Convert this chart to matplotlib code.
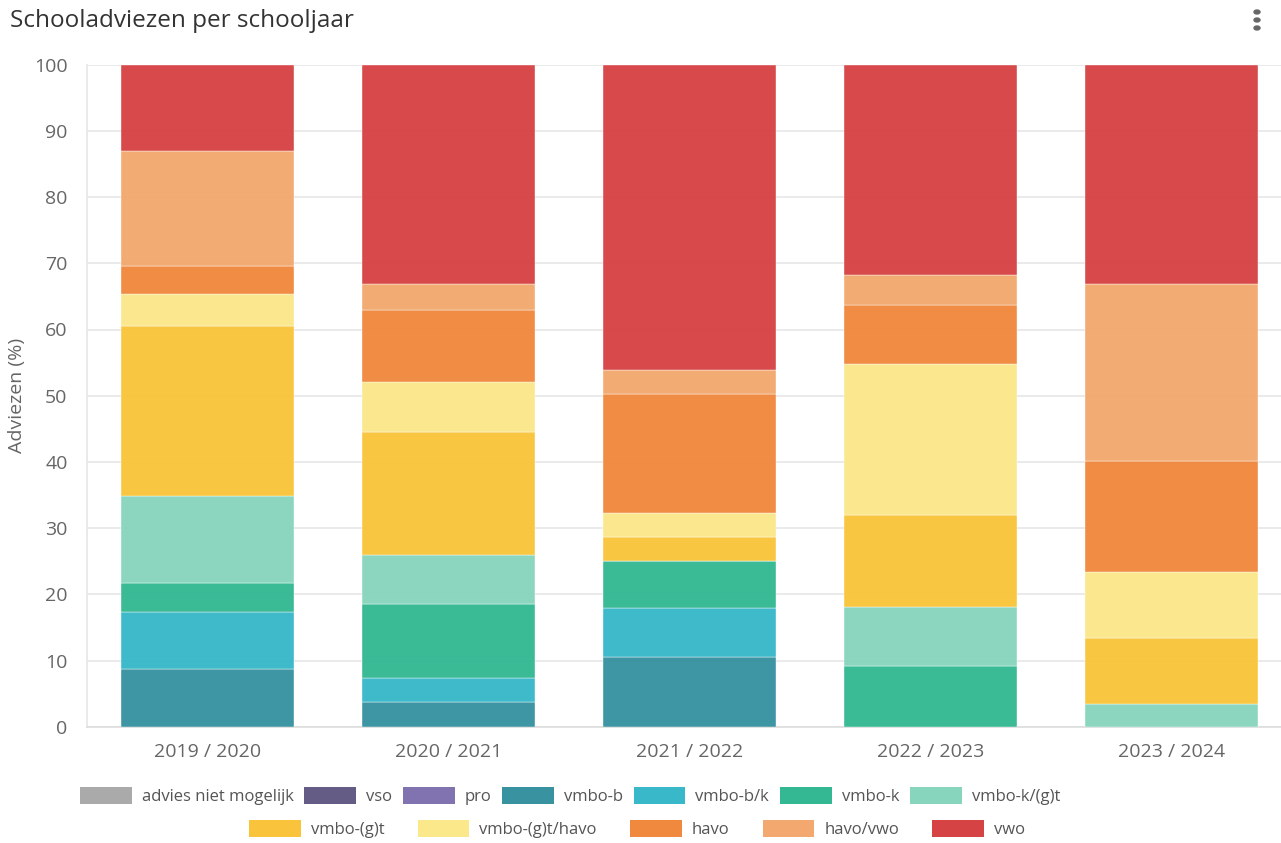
import numpy as np
import matplotlib
matplotlib.use('Agg')
import matplotlib.pyplot as plt
from matplotlib.patches import Patch

plt.rcParams['font.family'] = ['Open Sans', 'DejaVu Sans']

# Data
schooljaren = ['2019 / 2020', '2020 / 2021', '2021 / 2022', '2022 / 2023', '2023 / 2024']
categorieen = ['advies niet mogelijk', 'vso', 'pro', 'vmbo-b', 'vmbo-b/k', 'vmbo-k',
               'vmbo-k/(g)t', 'vmbo-(g)t', 'vmbo-(g)t/havo', 'havo', 'havo/vwo', 'vwo']
kleuren = ['#aaaaaa', '#655c85', '#8173b0', '#3892a0', '#38b8c9', '#34b893',
           '#88d5be', '#f9c43c', '#fbe88a', '#f0883e', '#f2a86e', '#d64345']

advies_niet_mogelijk = [0, 0, 0, 0, 0]
vso = [0, 0, 0, 0, 0]
pro = [0, 0, 0, 0, 0]
vmbo_b = [8.7, 3.7, 10.6, 0, 0]
vmbo_bk = [8.7, 3.7, 7.4, 0, 0]
vmbo_k = [4.3, 11.2, 7.1, 9.1, 0]
vmbo_kgt = [13.1, 7.4, 0, 9.0, 3.4]
vmbo_gt = [25.7, 18.5, 3.6, 13.9, 10.0]
vmbo_gt_havo = [4.8, 7.6, 3.6, 22.8, 10.0]
havo = [4.3, 10.9, 17.9, 8.9, 16.7]
havo_vwo = [17.4, 3.8, 3.7, 4.6, 26.7]
vwo = [13.0, 33.2, 46.1, 31.7, 33.2]

reeksen = [advies_niet_mogelijk, vso, pro, vmbo_b, vmbo_bk, vmbo_k,
           vmbo_kgt, vmbo_gt, vmbo_gt_havo, havo, havo_vwo, vwo]

W, H = 1281, 843
fig = plt.figure(figsize=(W / 100, H / 100), dpi=100)
ax = fig.add_axes([87 / W, 1 - 726.7 / H, 1194 / W, (726.7 - 64.7) / H])

x = np.arange(len(schooljaren))
bottom = np.zeros(len(schooljaren))
for naam, waarden, kleur in zip(categorieen, reeksen, kleuren):
    waarden = np.array(waarden, dtype=float)
    ax.bar(x, waarden, bottom=bottom, width=0.718, color=kleur, alpha=0.97,
           edgecolor='white', linewidth=0.3, zorder=3)
    bottom += waarden

ax.set_xlim(-0.5, 4.455)
ax.set_ylim(0, 100)
ax.set_yticks(np.arange(0, 101, 10))
ax.set_xticks(x)
ax.set_xticklabels(schooljaren)
ax.tick_params(axis='both', length=0, labelsize=14, colors='#666666')
ax.tick_params(axis='x', pad=12)
ax.tick_params(axis='y', pad=14)
ax.grid(axis='y', color='#e6e6e6', linewidth=1.2, zorder=0)
for side in ['top', 'right']:
    ax.spines[side].set_visible(False)
ax.spines['left'].set_color('#e6e6e6')
ax.spines['bottom'].set_color('#dddddd')
ax.spines['left'].set_linewidth(1.2)
ax.spines['bottom'].set_linewidth(1.2)
ax.set_ylabel('Adviezen (%)', fontsize=14, color='#666666', labelpad=6)

# Titel
fig.text(10 / W, 1 - 21 / H, 'Schooladviezen per schooljaar', fontsize=17.5,
         color='#333333', va='center', ha='left')

# menu-puntjes
for yy in [12, 20, 28]:
    fig.patches.append(plt.Circle((1257 / W, 1 - yy / H), 3 / W, transform=fig.transFigure,
                                  color='#666666'))

# Legenda in twee rijen
handles = [Patch(facecolor=k, edgecolor='none', label=c) for c, k in zip(categorieen, kleuren)]
leg_kw = dict(frameon=False, fontsize=12, handlelength=3.1, handleheight=1.2,
              handletextpad=0.6, loc='center')
leg1 = fig.legend(handles=handles[:7], ncol=7, columnspacing=0.65,
                  bbox_to_anchor=(570 / W, 1 - 796 / H), **leg_kw)
leg2 = fig.legend(handles=handles[7:], ncol=5, columnspacing=2.0,
                  bbox_to_anchor=(637 / W, 1 - 829 / H), **leg_kw)
for leg in (leg1, leg2):
    for t in leg.get_texts():
        t.set_color('#555555')

fig.savefig('out.png', dpi=100)
